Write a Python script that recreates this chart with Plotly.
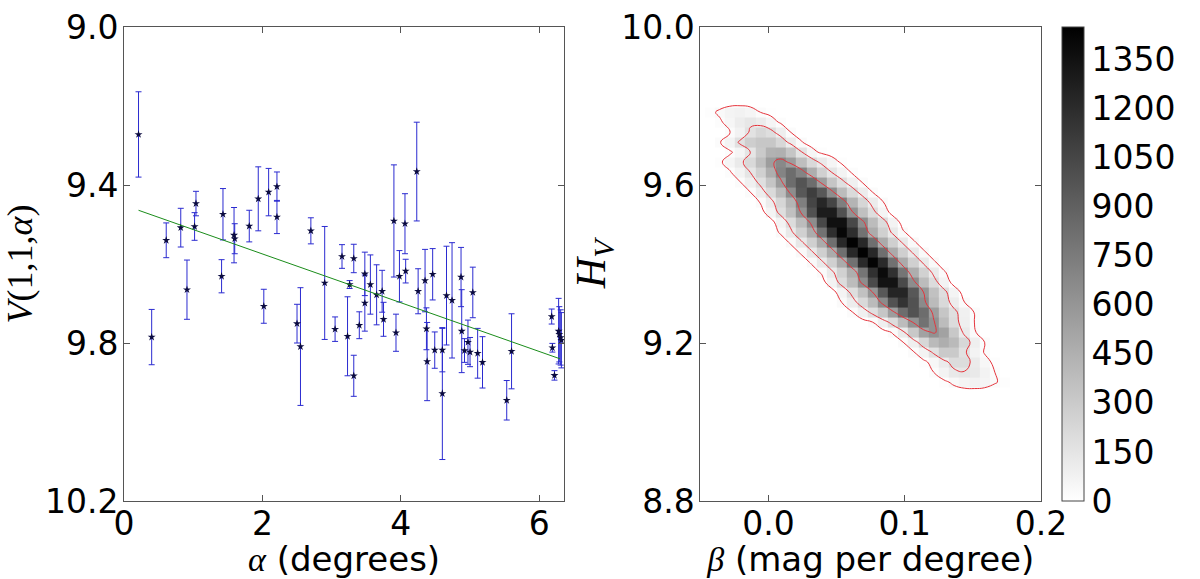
import plotly.graph_objects as go

# ---- left panel: reduced magnitude V(1,1,alpha) vs phase angle ----
alpha = [0.21, 0.40, 0.61, 0.82, 0.91, 1.02, 1.04, 1.41, 1.43, 1.59, 1.60, 1.81,
         1.94, 2.02, 2.09, 2.21, 2.21, 2.50, 2.55, 2.70, 2.90, 3.05, 3.15, 3.23,
         3.26, 3.32, 3.32, 3.40, 3.48, 3.48, 3.56, 3.65, 3.73, 3.75, 3.90, 3.93,
         3.98, 4.06, 4.07, 4.23, 4.25, 4.35, 4.37, 4.38, 4.46, 4.49, 4.60, 4.60,
         4.66, 4.74, 4.87, 4.88, 4.92, 4.97, 5.00, 5.04, 5.11, 5.18, 5.53, 5.60,
         6.18, 6.19, 6.22, 6.28, 6.29, 6.31, 6.32]
v_mag = [9.272, 9.785, 9.540, 9.508, 9.665, 9.505, 9.447, 9.631, 9.474, 9.527, 9.536, 9.504,
         9.435, 9.707, 9.418, 9.404, 9.481, 9.751, 9.809, 9.516, 9.648, 9.765, 9.581, 9.783,
         9.652, 9.883, 9.586, 9.755, 9.625, 9.699, 9.652, 9.678, 9.669, 9.740, 9.491, 9.774,
         9.631, 9.498, 9.618, 9.366, 9.669, 9.642, 9.764, 9.847, 9.626, 9.818, 9.818, 9.928,
         9.680, 9.692, 9.633, 9.770, 9.819, 9.798, 9.823, 9.672, 9.826, 9.849, 9.945, 9.821,
         9.733, 9.812, 9.882, 9.770, 9.778, 9.786, 9.793]
v_err = [0.108, 0.070, 0.044, 0.049, 0.075, 0.035, 0.031, 0.042, 0.065, 0.070, 0.038, 0.040,
         0.081, 0.043, 0.060, 0.037, 0.042, 0.049, 0.149, 0.033, 0.143, 0.031, 0.030, 0.100,
         0.010, 0.052, 0.036, 0.034, 0.055, 0.071, 0.075, 0.076, 0.053, 0.043, 0.142, 0.047,
         0.065, 0.076, 0.030, 0.125, 0.057, 0.079, 0.053, 0.099, 0.065, 0.046, 0.055, 0.167,
         0.125, 0.146, 0.075, 0.105, 0.030, 0.056, 0.037, 0.064, 0.063, 0.065, 0.050, 0.095,
         0.019, 0.011, 0.012, 0.083, 0.070, 0.070, 0.070]

fit_alpha = [0.21, 6.30]
fit_v = [9.464, 9.840]

alpha_ticks = [0, 2, 4, 6]
v_ticks = [9.0, 9.4, 9.8, 10.2]

# ---- right panel: 2d histogram of (beta, H_V) samples ----
beta_bins = [-0.0658, -0.0583, -0.0508, -0.0433, -0.0359, -0.0284, -0.0209, -0.0134,
             -0.0059, 0.0015, 0.0090, 0.0165, 0.0240, 0.0315, 0.0389, 0.0464, 0.0539,
             0.0614, 0.0689, 0.0763, 0.0838, 0.0913, 0.0988, 0.1063, 0.1137, 0.1212,
             0.1287, 0.1362, 0.1437, 0.1511, 0.1586, 0.1661, 0.1736, 0.1811, 0.1885, 0.1960]
# rows from top (high H) to bottom
h_bins = [9.809, 9.784, 9.759, 9.733, 9.708, 9.683, 9.658, 9.632, 9.607, 9.582, 9.556,
          9.531, 9.506, 9.480, 9.455, 9.430, 9.405, 9.379, 9.354, 9.329, 9.303, 9.278,
          9.253, 9.227, 9.202, 9.177, 9.152, 9.126, 9.101, 9.076]
row_start = [0, 3, 4, 5, 4, 5, 4, 5, 6, 7, 8, 9, 10, 10, 11, 12, 13, 14, 15, 16, 16,
             17, 19, 21, 22, 23, 24, 25, 26, 0]
row_counts = [
    [],
    [10, 35, 65, 75, 55, 25, 8],
    [15, 50, 105, 135, 110, 55, 15],
    [20, 75, 165, 230, 190, 95, 25],
    [20, 70, 170, 280, 320, 320, 230, 110, 30],
    [15, 55, 150, 300, 440, 450, 330, 160, 50, 12],
    [14, 55, 120, 215, 370, 560, 670, 560, 370, 215, 120, 55, 14],
    [18, 70, 150, 270, 460, 700, 830, 700, 460, 270, 150, 70, 18],
    [22, 85, 180, 330, 560, 830, 970, 830, 560, 330, 180, 85, 22],
    [25, 100, 210, 380, 650, 950, 1100, 950, 650, 380, 210, 100, 25],
    [28, 110, 235, 425, 730, 1060, 1230, 1060, 730, 425, 235, 110, 28],
    [65, 190, 360, 620, 990, 1290, 1290, 990, 620, 360, 190, 65],
    [68, 200, 380, 650, 1040, 1360, 1360, 1040, 650, 380, 200, 68],
    [32, 125, 265, 470, 800, 1190, 1410, 1190, 800, 470, 265, 125, 32],
    [33, 128, 272, 480, 820, 1220, 1440, 1220, 820, 480, 272, 128, 33],
    [33, 128, 272, 480, 820, 1220, 1440, 1220, 820, 480, 272, 128, 33],
    [32, 126, 268, 475, 810, 1210, 1430, 1210, 810, 475, 268, 126, 32],
    [31, 122, 260, 460, 785, 1170, 1390, 1170, 785, 460, 260, 122, 31],
    [68, 200, 380, 650, 1030, 1340, 1340, 1030, 650, 380, 200, 68],
    [63, 185, 350, 600, 950, 1240, 1240, 950, 600, 350, 185, 63],
    [26, 100, 215, 385, 660, 985, 1160, 985, 660, 385, 215, 100, 26],
    [22, 85, 180, 325, 555, 830, 980, 830, 555, 325, 180, 85, 22],
    [25, 90, 200, 380, 620, 800, 620, 380, 200, 90, 25],
    [30, 120, 310, 530, 620, 530, 310, 120, 30],
    [25, 90, 230, 390, 460, 390, 230, 90, 25],
    [20, 70, 170, 300, 300, 170, 70, 20],
    [12, 45, 115, 200, 200, 115, 45, 12],
    [25, 70, 125, 145, 125, 70, 25],
    [12, 38, 65, 72, 58, 30, 10],
    [],
]
contour_levels = [25, 150, 600]
beta_ticks = [0.0, 0.1, 0.2]
h_ticks = [8.8, 9.2, 9.6, 10.0]
count_ticks = [0, 150, 300, 450, 600, 750, 900, 1050, 1200, 1350]

# expand the row lists into a full grid
z = [[0] * len(beta_bins) for _ in h_bins]
for i, (s, vals) in enumerate(zip(row_start, row_counts)):
    for k, v in enumerate(vals):
        z[i][s + k] = v
z = z[::-1]
h_up = h_bins[::-1]
z_img = [[v if v > 0 else None for v in row] for row in z]

serif = "Liberation Serif"
red = "#e5333b"
tick_size = 33
title_size = 34

fig = go.Figure()

fig.add_trace(go.Scatter(
    x=alpha, y=v_mag, mode="markers",
    marker=dict(symbol="star", size=6, color="#0b0b40"),
    error_y=dict(type="data", array=v_err, color="#2b2bd0", thickness=1, width=3),
    xaxis="x", yaxis="y", showlegend=False))
fig.add_trace(go.Scatter(
    x=fit_alpha, y=fit_v, mode="lines", line=dict(color="#1a8c1a", width=1),
    xaxis="x", yaxis="y", showlegend=False))

fig.add_trace(go.Heatmap(
    x=beta_bins, y=h_up, z=z_img, zmin=0, zmax=1450,
    colorscale=[[0, "#ffffff"], [1, "#000000"]],
    xaxis="x2", yaxis="y2",
    colorbar=dict(x=1.0234, xanchor="left", y=0, yanchor="bottom",
                  len=1, lenmode="fraction", thickness=22,
                  outlinewidth=1, outlinecolor="#444", tickvals=count_ticks,
                  ticks="", tickfont=dict(size=tick_size), xpad=0, ypad=0)))
for lev in contour_levels:
    fig.add_trace(go.Contour(
        x=beta_bins, y=h_up, z=z, showscale=False,
        colorscale=[[0, red], [1, red]],
        contours=dict(start=lev, end=lev, size=1, coloring="lines"),
        line=dict(width=1, smoothing=1.3),
        xaxis="x2", yaxis="y2", hoverinfo="skip"))

axis_style = dict(showline=True, linecolor="#555", linewidth=1, mirror="ticks",
                  ticks="inside", ticklen=6, tickcolor="#555", automargin=False,
                  showgrid=False, zeroline=False, tickfont=dict(size=tick_size))

fig.update_layout(
    width=1200, height=579,
    margin=dict(l=124, r=159, t=27, b=78, autoexpand=False),
    paper_bgcolor="white", plot_bgcolor="white",
    font=dict(family="DejaVu Sans", size=tick_size, color="black"),
    xaxis=dict(domain=[0, 0.480], range=[0, 6.36], tickvals=alpha_ticks,
               ticklabelstandoff=-7,
               title=dict(text=f'<span style="font-family:{serif}"><i>α</i></span> (degrees)',
                          font=dict(size=title_size), standoff=0), **axis_style),
    yaxis=dict(domain=[0, 1], range=[10.2, 9.0], tickvals=v_ticks,
               tickformat=".1f", ticklabelstandoff=-2,
               title=dict(text="<i>V</i>(1,1,<i>α</i>)",
                          font=dict(family=serif, size=title_size + 2), standoff=8), **axis_style),
    xaxis2=dict(domain=[0.6286, 1], range=[-0.05, 0.2], tickvals=beta_ticks,
                tickformat=".1f", anchor="y2", ticklabelstandoff=-7,
                title=dict(text=f'<span style="font-family:{serif}"><i>β</i></span> (mag per degree)',
                           font=dict(size=title_size), standoff=0), **axis_style),
    yaxis2=dict(domain=[0, 1], range=[8.8, 10.0], tickvals=h_ticks,
                tickformat=".1f", anchor="x2", ticklabelstandoff=-2,
                title=dict(text="<i>H</i><sub><i>V</i></sub>",
                           font=dict(family=serif, size=42), standoff=2), **axis_style),
)

fig.write_html("out.html", config={"displayModeBar": False},
               post_script="document.body.style.margin='0';")
